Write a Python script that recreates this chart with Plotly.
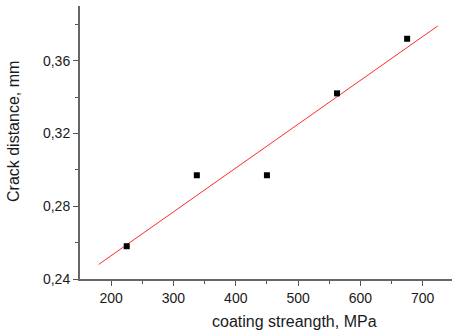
import plotly.graph_objects as go

# Data
strength = [225, 337.5, 450, 562.5, 675]
crack = [0.258, 0.297, 0.297, 0.342, 0.372]
fit_x = [180, 724]
fit_y = [0.248, 0.379]

x_ticks = [200, 300, 400, 500, 600, 700]
y_ticks = [0.24, 0.28, 0.32, 0.36]

fig = go.Figure()
fig.add_trace(go.Scatter(x=fit_x, y=fit_y, mode="lines",
                         line=dict(color="#ff2a2a", width=1), showlegend=False))
fig.add_trace(go.Scatter(x=strength, y=crack, mode="markers",
                         marker=dict(symbol="square", size=6, color="black"),
                         showlegend=False))

axis_common = dict(showgrid=False, zeroline=False, showline=True,
                   linecolor="#666666", linewidth=2, ticks="outside",
                   tickcolor="#555555", tickwidth=1, ticklen=5,
                   tickfont=dict(family="Liberation Sans, Arial", size=14, color="#1a1a1a"))

fig.update_layout(
    width=452, height=333,
    margin=dict(l=80, r=0, t=6, b=54),
    plot_bgcolor="white", paper_bgcolor="white",
    separators=", ",
    xaxis=dict(range=[150, 747], tickvals=x_ticks,
               minor=dict(tickvals=[250, 350, 450, 550, 650], ticks="outside",
                          ticklen=3, tickcolor="#555555"),
               **axis_common),
    yaxis=dict(range=[0.24, 0.39], tickvals=y_ticks, tickformat=".2f",
               minor=dict(tickvals=[0.26, 0.30, 0.34, 0.38], ticks="outside",
                          ticklen=3, tickcolor="#555555"),
               **axis_common),
    annotations=[
        dict(text="coating streangth, MPa", xref="paper", yref="paper",
             x=(294 - 80) / 372, y=-42 / 273, xanchor="center", yanchor="middle",
             showarrow=False,
             font=dict(family="Liberation Sans, Arial", size=16, color="#1a1a1a")),
        dict(text="Crack distance, mm", xref="paper", yref="paper",
             x=-67 / 372, y=(279 - 132) / 273, xanchor="center", yanchor="middle",
             textangle=-90, showarrow=False,
             font=dict(family="Liberation Sans, Arial", size=16, color="#1a1a1a")),
    ],
)

fig.write_html("out.html", config={"displayModeBar": False},
               post_script="document.body.style.margin='0';")
